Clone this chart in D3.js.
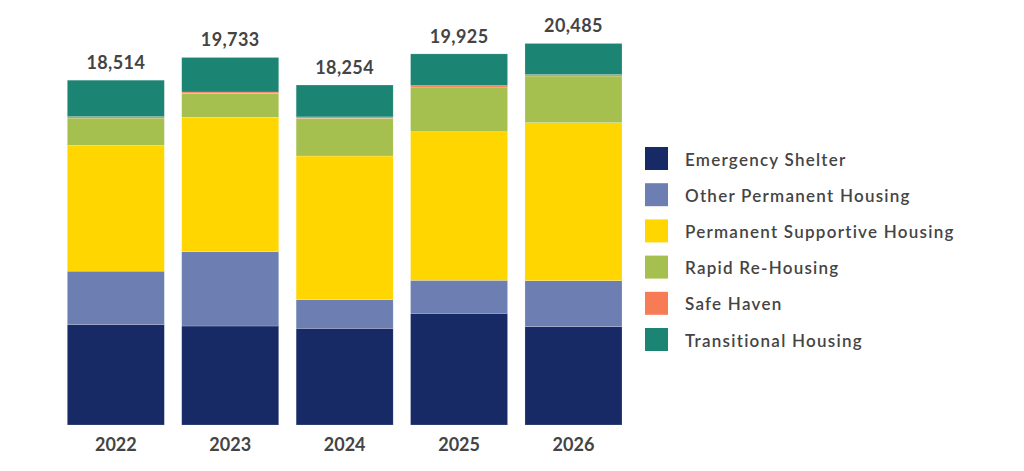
<!DOCTYPE html>
<html>
<head>
<meta charset="utf-8">
<script src="https://cdn.jsdelivr.net/npm/d3@7"></script>
<style>
  body { margin: 0; background: #fff; }
  text { font-family: Lato, "Open Sans", sans-serif; fill: #444; }
</style>
</head>
<body>
<div id="chart"></div>
<script>
var years = ["2022", "2023", "2024", "2025", "2026"];
var categories = ["Emergency Shelter", "Other Permanent Housing", "Permanent Supportive Housing",
  "Rapid Re-Housing", "Safe Haven", "Transitional Housing"];
var colors = ["#182a65", "#6d7eb2", "#ffd600", "#a6c04f", "#f77c55", "#1c8473"];

// values per category, one per year
var emergencyShelter = [5400, 5315, 5192, 5997, 5278];
var otherPermanent = [2860, 3989, 1536, 1772, 2470];
var permanentSupportive = [6750, 7216, 7715, 7978, 8483];
var rapidRehousing = [1470, 1289, 2024, 2400, 2507];
var safeHaven = [75, 70, 75, 75, 75];
var transitional = [1959, 1854, 1712, 1703, 1672];
var totals = [18514, 19733, 18254, 19925, 20485];

var seriesValues = [emergencyShelter, otherPermanent, permanentSupportive, rapidRehousing, safeHaven, transitional];

var svgWidth = 1024;
var svgHeight = 471;

var svg = d3.select("#chart")
  .append("svg")
  .attr("width", svgWidth)
  .attr("height", svgHeight);

// build rows for d3.stack
var rows = years.map(function(y, i) {
  var row = { year: y };
  categories.forEach(function(c, j) { row[c] = seriesValues[j][i]; });
  return row;
});

var stacked = d3.stack().keys(categories)(rows);

var xScale = d3.scaleBand()
  .domain(years)
  .range([67.3, 622])
  .paddingInner(0.152)
  .paddingOuter(0);

var yScale = d3.scaleLinear()
  .domain([0, 22000])
  .range([425, 425 - 22000 / 53.69]);

var layers = svg.append("g")
  .selectAll("g")
  .data(stacked)
  .enter()
  .append("g")
  .attr("fill", function(d, i) { return colors[i]; });

layers.selectAll("rect")
  .data(function(d) { return d; })
  .enter()
  .append("rect")
  .attr("x", function(d) { return xScale(d.data.year); })
  .attr("y", function(d) { return yScale(d[1]); })
  .attr("width", xScale.bandwidth())
  .attr("height", function(d) { return yScale(d[0]) - yScale(d[1]); })
  .attr("stroke", "#ffffff")
  .attr("stroke-opacity", 0.4)
  .attr("stroke-width", 0.5);

// totals above bars
svg.append("g")
  .selectAll("text")
  .data(totals)
  .enter()
  .append("text")
  .attr("x", function(d, i) { return xScale(years[i]) + xScale.bandwidth() / 2; })
  .attr("y", function(d) { return yScale(d) - 11; })
  .attr("text-anchor", "middle")
  .attr("font-size", "18px")
  .attr("font-weight", "bold")
  .attr("letter-spacing", "0.4px")
  .text(function(d) { return d3.format(",")(d); });

// x axis labels
var xAxis = d3.axisBottom(xScale).tickSize(0).tickPadding(0);
var xAxisG = svg.append("g")
  .attr("transform", "translate(0, 451)")
  .call(xAxis);
xAxisG.select(".domain").remove();
xAxisG.selectAll("text")
  .attr("dy", 0)
  .attr("font-size", "18px")
  .attr("font-weight", "bold")
  .attr("font-family", "Lato, sans-serif")
  .attr("fill", "#444");

// legend
var legend = svg.append("g")
  .attr("transform", "translate(645, 147)");

var items = legend.selectAll("g")
  .data(categories)
  .enter()
  .append("g")
  .attr("transform", function(d, i) { return "translate(0," + (i * 36.2) + ")"; });

items.append("rect")
  .attr("width", 23)
  .attr("height", 23)
  .attr("fill", function(d, i) { return colors[i]; });

items.append("text")
  .attr("x", 40)
  .attr("y", 18.5)
  .attr("font-size", "17px")
  .attr("font-weight", 600)
  .attr("letter-spacing", "1.25px")
  .text(function(d) { return d; });
</script>
</body>
</html>
